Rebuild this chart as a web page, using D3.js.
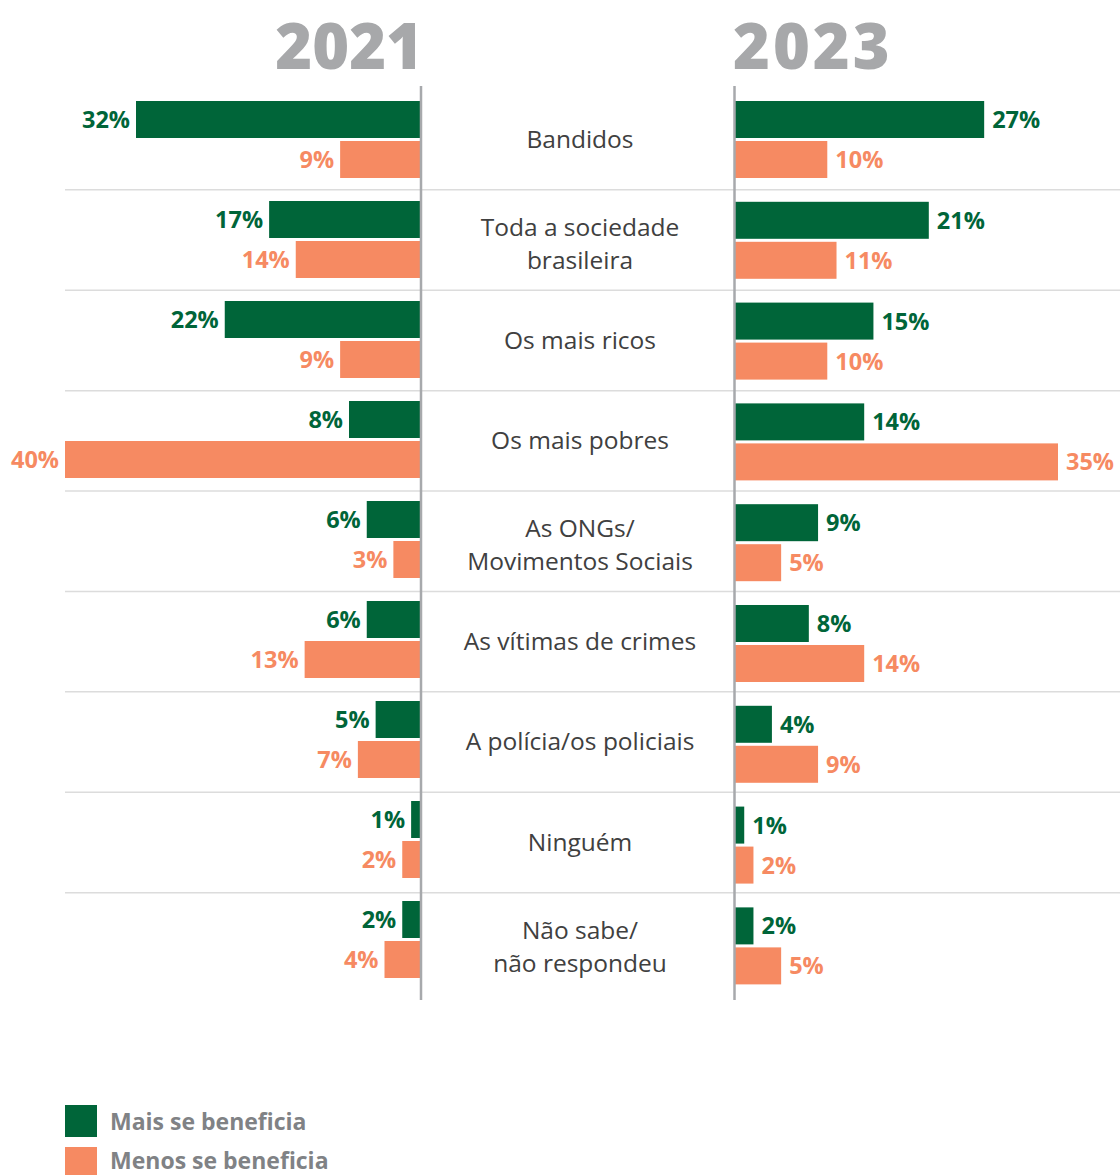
<!DOCTYPE html>
<html>
<head>
<meta charset="utf-8">
<script src="https://cdn.jsdelivr.net/npm/d3@7"></script>
<style>
  html, body { margin: 0; padding: 0; background: #fff; }
  svg { display: block; }
  text { font-family: "Open Sans", "Noto Sans", sans-serif; }
</style>
</head>
<body>
<svg id="chart" width="1120" height="1175"></svg>
<script>
// Quem mais / menos se beneficia — comparação 2021 x 2023
const categories = [
  "Bandidos",
  "Toda a sociedade\nbrasileira",
  "Os mais ricos",
  "Os mais pobres",
  "As ONGs/\nMovimentos Sociais",
  "As vítimas de crimes",
  "A polícia/os policiais",
  "Ninguém",
  "Não sabe/\nnão respondeu"
];
const years = ["2021", "2023"];
const seriesNames = ["Mais se beneficia", "Menos se beneficia"];

const mais2021  = [32, 17, 22, 8, 6, 6, 5, 1, 2];
const menos2021 = [9, 14, 9, 40, 3, 13, 7, 2, 4];
const mais2023  = [27, 21, 15, 14, 9, 8, 4, 1, 2];
const menos2023 = [10, 11, 10, 35, 5, 14, 9, 2, 5];

const GREEN = "#006539";
const ORANGE = "#F68A62";
const colors = [GREEN, ORANGE];

const svg = d3.select("#chart");

// Horizontal scales: 2021 grows to the left, 2023 to the right
const xLeft = d3.scaleLinear().domain([0, 40]).range([420, 65]);
const xRight = d3.scaleLinear().domain([0, 35]).range([735, 1058]);

// Row scales for each panel
const yLeft = d3.scaleBand().domain(categories).range([101, 978]).paddingInner(0.23).paddingOuter(0);
const yRight = d3.scaleBand().domain(categories).range([101, 985]).paddingInner(0.23).paddingOuter(0);
const sub = d3.scaleBand().domain(seriesNames).range([0, yLeft.bandwidth()]).paddingInner(0.075);

// Row separators
const seps = categories.slice(1).map((c, i) => {
  const prev = categories[i];
  const a = (yLeft(prev) + yLeft.bandwidth() + yLeft(c)) / 2;
  const b = (yRight(prev) + yRight.bandwidth() + yRight(c)) / 2;
  return (a + b) / 2;
});
svg.append("g").selectAll("line").data(seps).join("line")
  .attr("x1", 65).attr("x2", 1120)
  .attr("y1", d => d).attr("y2", d => d)
  .attr("stroke", "#dcdcdc").attr("stroke-width", 1.5);

// Year headers
svg.append("text").attr("x", 423).attr("y", 69).attr("text-anchor", "end")
  .attr("font-size", 63).attr("font-weight", 800).attr("fill", "#A7A8AA")
  .text(years[0]);
svg.append("text").attr("x", 733).attr("y", 69).attr("text-anchor", "start")
  .attr("font-size", 63).attr("font-weight", 800).attr("fill", "#A7A8AA")
  .attr("letter-spacing", 3)
  .text(years[1]);

function panel(x, y, mais, menos, side) {
  const g = svg.append("g");
  const rows = categories.map((c, i) => ({ c, vals: [mais[i], menos[i]] }));
  const rowG = g.selectAll("g.row").data(rows).join("g")
    .attr("class", "row")
    .attr("transform", d => `translate(0,${y(d.c)})`);
  const cells = rowG.selectAll("g.cell")
    .data(d => d.vals.map((v, k) => ({ v, k, s: seriesNames[k] })))
    .join("g").attr("class", "cell");
  cells.append("rect")
    .attr("x", d => side === "left" ? x(d.v) : x(0))
    .attr("y", d => sub(d.s))
    .attr("width", d => Math.abs(x(d.v) - x(0)))
    .attr("height", sub.bandwidth())
    .attr("fill", d => colors[d.k]);
  cells.append("text")
    .attr("x", d => side === "left" ? x(d.v) - 6 : x(d.v) + 8)
    .attr("y", d => sub(d.s) + sub.bandwidth() / 2)
    .attr("dy", "0.36em")
    .attr("text-anchor", side === "left" ? "end" : "start")
    .attr("font-size", 23.5).attr("font-weight", 700)
    .attr("fill", d => colors[d.k])
    .text(d => d.v + "%");
}
panel(xLeft, yLeft, mais2021, menos2021, "left");
panel(xRight, yRight, mais2023, menos2023, "right");

// Vertical baselines
svg.append("line").attr("x1", 421).attr("x2", 421).attr("y1", 86).attr("y2", 1000)
  .attr("stroke", "#A7A9AC").attr("stroke-width", 2.5);
svg.append("line").attr("x1", 734.5).attr("x2", 734.5).attr("y1", 86).attr("y2", 1000)
  .attr("stroke", "#A7A9AC").attr("stroke-width", 2.5);

// Category labels in the middle column
const labG = svg.append("g");
categories.forEach(c => {
  const lines = c.split("\n");
  const cy = ((yLeft(c) + yRight(c)) / 2) + yLeft.bandwidth() / 2 + (lines.length > 1 ? 4 : 0);
  const lh = 33;
  const t = labG.append("text")
    .attr("x", 580).attr("text-anchor", "middle")
    .attr("font-size", 24.5).attr("fill", "#404040");
  lines.forEach((ln, i) => {
    t.append("tspan").attr("x", 580)
      .attr("y", cy + (i - (lines.length - 1) / 2) * lh)
      .attr("dy", "0.35em")
      .text(ln);
  });
});

// Legend
const leg = svg.append("g");
seriesNames.forEach((s, i) => {
  const y0 = 1105 + i * 42;
  leg.append("rect").attr("x", 65).attr("y", y0).attr("width", 32).attr("height", 32).attr("fill", colors[i]);
  leg.append("text").attr("x", 110).attr("y", 1122 + i * 38.5).attr("dy", "0.35em")
    .attr("font-size", 23).attr("font-weight", 700).attr("fill", "#808285").text(s);
});
</script>
</body>
</html>
